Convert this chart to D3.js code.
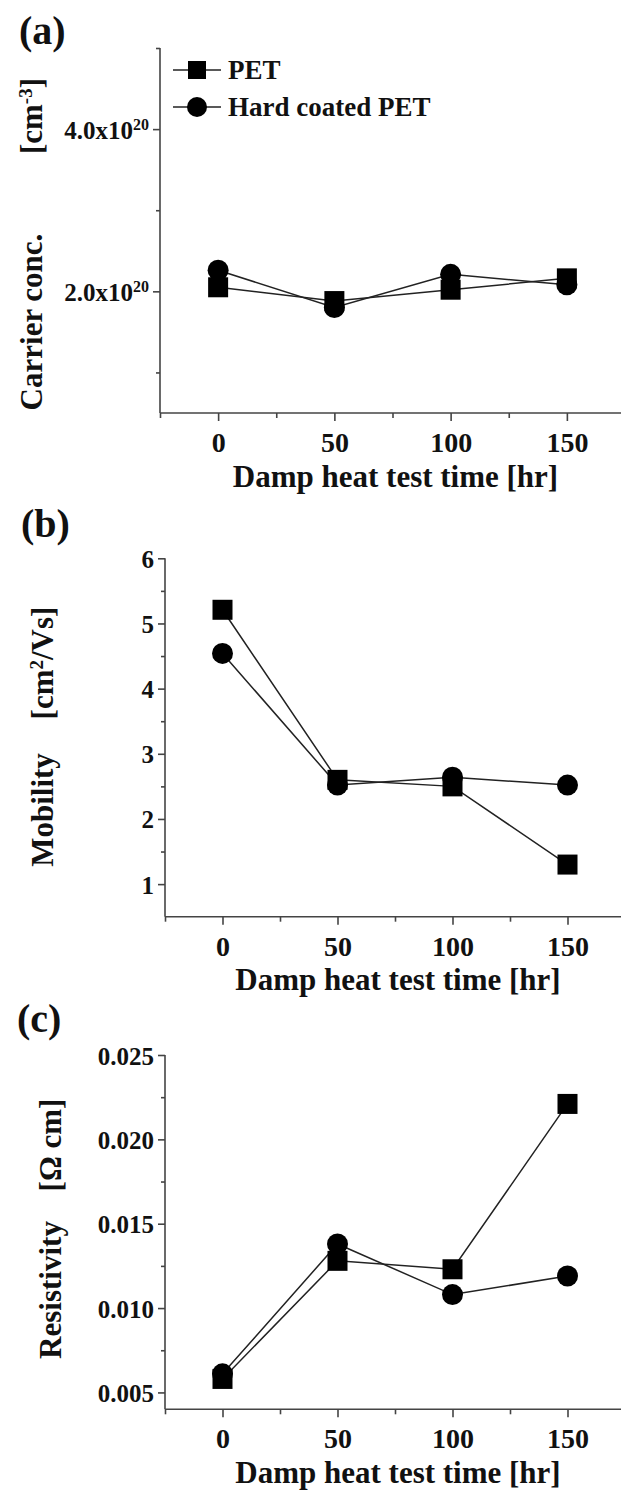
<!DOCTYPE html>
<html>
<head>
<meta charset="utf-8">
<script src="https://cdn.jsdelivr.net/npm/d3@7/dist/d3.min.js"></script>
<style>
  html, body { margin: 0; padding: 0; background: #fff; }
  svg { display: block; }
  text { font-family: "Liberation Serif", "Times New Roman", serif; font-weight: bold; fill: #111; }
</style>
</head>
<body>
<svg id="chart" width="621" height="1490"></svg>
<script>
// Damp heat test time [hr]
const hours = [0, 50, 100, 150];
const xTicks = [0, 50, 100, 150];
const xMinorTicks = [-25, 25, 75, 125];

// (a) carrier concentration, in units of 1e20 cm^-3
const carrierPET = [2.05, 1.88, 2.02, 2.16];
const carrierHC  = [2.26, 1.80, 2.21, 2.08];
const carrierTicks = [2, 4];
const carrierMinor = [1, 3, 5];

// (b) mobility, cm^2/Vs
const mobilityPET = [5.21, 2.60, 2.50, 1.30];
const mobilityHC  = [4.54, 2.52, 2.64, 2.52];
const mobilityTicks = [1, 2, 3, 4, 5, 6];
const mobilityMinor = [1.5, 2.5, 3.5, 4.5, 5.5];

// (c) resistivity, ohm cm
const resistPET = [0.0058, 0.0128, 0.0123, 0.0221];
const resistHC  = [0.0061, 0.0138, 0.0108, 0.0119];
const resistTicks = [0.005, 0.010, 0.015, 0.020, 0.025];
const resistMinor = [0.0075, 0.0125, 0.0175, 0.0225];

const seriesNames = ["PET", "Hard coated PET"];

const svg = d3.select("#chart");
const AXIS_COLOR = "#444";
const LINE_COLOR = "#222";

function drawPanel(cfg) {
  const g = svg.append("g");
  const x = d3.scaleLinear().domain([-25, 175]).range([cfg.left, 625]);
  const y = d3.scaleLinear().domain(cfg.yDomain).range([cfg.bottom, cfg.top]);

  // minor ticks
  g.append("g")
    .attr("transform", `translate(0,${cfg.bottom})`)
    .call(d3.axisBottom(x).tickValues(xMinorTicks).tickSize(5).tickSizeOuter(0).tickFormat(""))
    .call(a => a.select(".domain").remove());
  g.append("g")
    .attr("transform", `translate(${cfg.left},0)`)
    .call(d3.axisLeft(y).tickValues(cfg.yMinor).tickSize(4).tickSizeOuter(0).tickFormat(""))
    .call(a => a.select(".domain").remove());

  // major axes
  const xa = g.append("g")
    .attr("transform", `translate(0,${cfg.bottom})`)
    .call(d3.axisBottom(x).tickValues(xTicks).tickSize(8).tickSizeOuter(0));
  xa.selectAll("text").attr("font-size", 28).attr("dy", null).attr("y", 39)
    .style("fill", "#111");

  const ya = g.append("g")
    .attr("transform", `translate(${cfg.left},0)`)
    .call(d3.axisLeft(y).tickValues(cfg.yTicks).tickSize(7).tickSizeOuter(0).tickFormat(cfg.yFormat));
  ya.selectAll("text").attr("font-size", 25).attr("x", -11).attr("dy", "0.36em")
    .style("fill", "#111");
  if (cfg.yTextBuilder) ya.selectAll("text").each(cfg.yTextBuilder);

  g.selectAll(".domain, .tick line").attr("stroke", AXIS_COLOR).attr("stroke-width", 1.6);
  ya.select(".domain").attr("d", `M0,${cfg.bottom}V${cfg.top}`);
  xa.select(".domain").attr("d", `M${cfg.left},0H625`);

  // series: connecting lines, then markers
  const line = d3.line().x((d, i) => x(hours[i])).y(d => y(d));
  [cfg.pet, cfg.hc].forEach(vals => {
    g.append("path").datum(vals).attr("d", line)
      .attr("fill", "none").attr("stroke", LINE_COLOR).attr("stroke-width", 1.5);
  });
  g.selectAll(".sq").data(cfg.pet).join("rect")
    .attr("x", (d, i) => x(hours[i]) - 10).attr("y", d => y(d) - 10)
    .attr("width", 20).attr("height", 20).attr("fill", "#000");
  g.selectAll(".ci").data(cfg.hc).join("circle")
    .attr("cx", (d, i) => x(hours[i])).attr("cy", d => y(d))
    .attr("r", 10.5).attr("fill", "#000");

  // x axis title
  g.append("text").attr("x", (cfg.left + 625) / 2 + 3).attr("y", cfg.bottom + 73.5)
    .attr("text-anchor", "middle").attr("font-size", 31)
    .text("Damp heat test time [hr]");

  // panel letter
  g.append("text").attr("x", cfg.letterX).attr("y", cfg.letterY)
    .attr("font-size", 40).text(cfg.letter);

  // y axis title, two parts
  cfg.yTitle.forEach(t => {
    const tx = g.append("text")
      .attr("transform", `translate(${t.x},${t.y}) rotate(-90)`)
      .attr("text-anchor", "middle").attr("font-size", 31);
    t.parts.forEach(p => {
      const s = tx.append("tspan").text(p.text);
      if (p.sup) s.attr("font-size", 19).attr("baseline-shift", "super");
    });
  });
  return { x, y, g };
}

// (a)
const pa = drawPanel({
  left: 160, top: 48, bottom: 413,
  yDomain: [0.5, 5], yTicks: carrierTicks, yMinor: carrierMinor,
  yFormat: d => d3.format(".1f")(d),
  yTextBuilder: function(d) {
    const t = d3.select(this).text("");
    t.append("tspan").text(d3.format(".1f")(d) + "x10");
    t.append("tspan").text("20").attr("font-size", 16).attr("dy", "-0.55em");
  },
  pet: carrierPET, hc: carrierHC,
  letter: "(a)", letterX: 19, letterY: 44,
  yTitle: [
    { x: 42, y: 322, parts: [{ text: "Carrier conc." }] },
    { x: 42, y: 116, parts: [{ text: "[cm" }, { text: "-3", sup: true }, { text: "]" }] }
  ]
});

// legend in panel (a)
[0, 1].forEach(i => {
  const ly = 70 + i * 37;
  pa.g.append("line").attr("x1", 173).attr("x2", 221).attr("y1", ly).attr("y2", ly)
    .attr("stroke", LINE_COLOR).attr("stroke-width", 1.5);
  if (i === 0) {
    pa.g.append("rect").attr("x", 188).attr("y", ly - 9).attr("width", 18).attr("height", 18).attr("fill", "#000");
  } else {
    pa.g.append("circle").attr("cx", 197).attr("cy", ly).attr("r", 10).attr("fill", "#000");
  }
  pa.g.append("text").attr("x", 228).attr("y", ly + 9).attr("font-size", 27).text(seriesNames[i]);
});

// (b)
drawPanel({
  left: 165, top: 558.3, bottom: 916.7,
  yDomain: [0.5, 6], yTicks: mobilityTicks, yMinor: mobilityMinor,
  yFormat: d3.format("d"),
  pet: mobilityPET, hc: mobilityHC,
  letter: "(b)", letterX: 21, letterY: 537,
  yTitle: [
    { x: 53, y: 810, parts: [{ text: "Mobility" }] },
    { x: 53, y: 663, parts: [{ text: "[cm" }, { text: "2", sup: true }, { text: "/Vs]" }] }
  ]
});

// (c)
drawPanel({
  left: 165, top: 1055, bottom: 1409.3,
  yDomain: [0.004, 0.025], yTicks: resistTicks, yMinor: resistMinor,
  yFormat: d3.format(".3f"),
  pet: resistPET, hc: resistHC,
  letter: "(c)", letterX: 17, letterY: 1032,
  yTitle: [
    { x: 61, y: 1290, parts: [{ text: "Resistivity" }] },
    { x: 61, y: 1145, parts: [{ text: "[\u03A9 cm]" }] }
  ]
});
</script>
</body>
</html>
